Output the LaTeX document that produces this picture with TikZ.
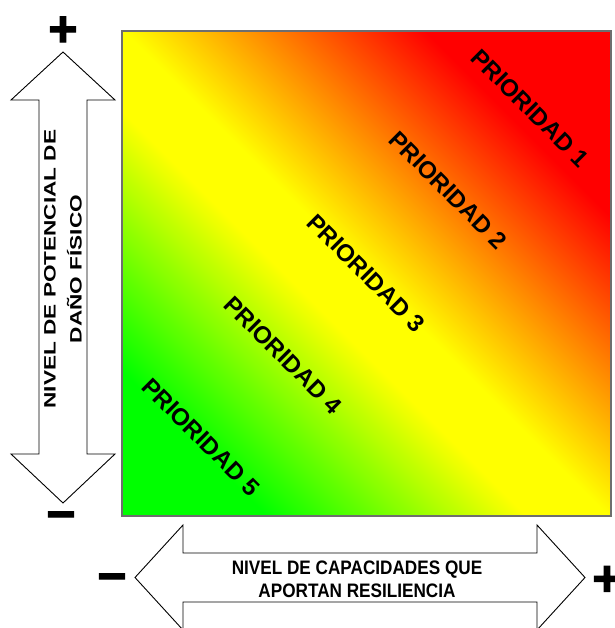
\documentclass[tikz,border=0pt]{standalone}
\usepackage{fontspec}
\setmainfont{Liberation Sans}
\newfontfamily\tallfont[FakeStretch=1.37]{Liberation Sans}
\newfontfamily\narrowfont[FakeStretch=0.88]{Liberation Sans}
\newfontfamily\signfont[FakeBold=2.5]{Liberation Sans}
\usepackage{tikz}
\usetikzlibrary{positioning}
\definecolor{prgreen}{RGB}{0,255,0}
\definecolor{pryellow}{RGB}{255,255,0}
\definecolor{prred}{RGB}{255,0,0}
\definecolor{prborder}{RGB}{110,110,110}
\pgfdeclarehorizontalshading{prioshade}{100bp}{color(0bp)=(prgreen); color(25bp)=(prgreen); color(44bp)=(pryellow); color(50bp)=(pryellow); color(72bp)=(prred); color(100bp)=(prred)}
\tikzstyle{prio} = [font=\bfseries\fontsize{24}{24}\selectfont, rotate=-45, inner sep=0pt]
\tikzstyle{bigarrow} = [draw=black, fill=white, line width=0.9pt, line join=miter]
\tikzstyle{sign} = [font=\signfont\bfseries\fontsize{50}{50}\selectfont, inner sep=0pt, anchor=base]

\begin{document}
\begin{tikzpicture}[x=1pt, y=-1pt]
\useasboundingbox (0,0) rectangle (614,628);

% Priority square
\shadedraw[shading=prioshade, shading angle=45, draw=prborder, line width=1.2pt] (122,31) rectangle (611,516);

% Priority labels
\node[prio] (p1) at (530,108) {PRIORIDAD 1};
\node[prio] (p2) at (448,190) {PRIORIDAD 2};
\node[prio] (p3) at (366,273) {PRIORIDAD 3};
\node[prio] (p4) at (283,355) {PRIORIDAD 4};
\node[prio] (p5) at (201,437) {PRIORIDAD 5};

% Double arrows (no numbers)
\draw[bigarrow] (63,52) -- (115,100) -- (87,100) -- (87,454) -- (115,454) -- (63,503)
  -- (11,454) -- (39,454) -- (39,100) -- (11,100) -- cycle;
\draw[bigarrow] (135,577.5) -- (183,525) -- (183,553) -- (537,553) -- (537,525) -- (585,577.5)
  -- (537,630) -- (537,602) -- (183,602) -- (183,630) -- cycle;

% Axis labels
\node[font=\tallfont\bfseries\fontsize{16.5}{26}\selectfont, rotate=90, align=center] (vlabel) at (63,269) {NIVEL DE POTENCIAL DE\\DAÑO FÍSICO};
\node[font=\narrowfont\bfseries\fontsize{19.5}{22.5}\selectfont, align=center] (hlabel) at (357,579.5) {NIVEL DE CAPACIDADES QUE\\APORTAN RESILIENCIA};

% Signs
\node[sign] (vplus) at (63,46) {+};
\node[sign] (vminus) at (61,531) {−};
\node[sign] (hminus) at (112,593) {−};
\node[sign] (hplus) at (607,595.5) {+};
\end{tikzpicture}
\end{document}
